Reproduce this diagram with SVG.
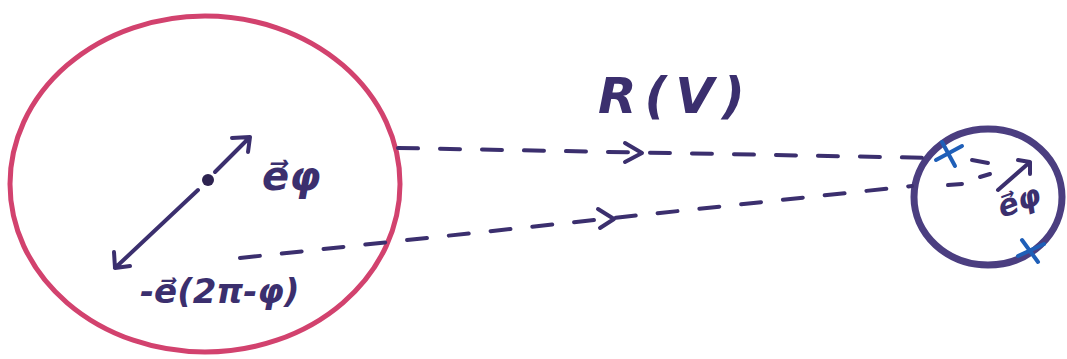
<svg xmlns="http://www.w3.org/2000/svg" width="1067" height="359" viewBox="0 0 1067 359">
<style>
.ink{fill:none;stroke:#3b2f6e;stroke-width:4;stroke-linecap:round;stroke-linejoin:round}
.dash{fill:none;stroke:#3b2f6e;stroke-width:4;stroke-linecap:round;stroke-dasharray:20 22}
.lbl{font-family:"DejaVu Sans",sans-serif;fill:#3b2f6e;font-style:italic;font-weight:bold}
.x{fill:none;stroke:#1f5fb8;stroke-width:4;stroke-linecap:round}
</style>
<rect width="1067" height="359" fill="#ffffff"/>
<g id="left-circle">
<ellipse cx="205" cy="184" rx="195" ry="168" fill="none" stroke="#d2426e" stroke-width="5"/>
<circle cx="208" cy="180" r="6" fill="#2d2350"/>
<path class="ink" d="M215 172 L250 137 M232 138 L250 137 L248 152"/>
<path class="ink" d="M198 190 L115 268 M114 252 L115 268 L130 266"/>
<text class="lbl" x="262" y="190" font-size="40">e⃗φ</text>
<text class="lbl" x="140" y="303" font-size="34">-e⃗(2π-φ)</text>
</g>
<g id="title">
<text class="lbl" x="598" y="113" font-size="50" font-weight="normal" letter-spacing="8">R(V)</text>
</g>
<g id="right-circle">
<ellipse cx="988" cy="197" rx="74" ry="68" fill="none" stroke="#4b3e80" stroke-width="7"/>
<path class="ink" d="M998 190 L1030 162 M1018 160 L1030 162 L1030 174"/>
<text class="lbl" x="1002" y="218" font-size="30" transform="rotate(-20 1002 218)">e⃗φ</text>
<path class="x" d="M942 142 L955 166 M936 160 L962 146"/>
<path class="x" d="M1022 240 L1038 262 M1018 256 L1044 244"/>
</g>
<g id="connectors">
<path class="dash" d="M398 148 L936 158"/>
<path class="ink" d="M625 143 L642 153 L625 162"/>
<path class="dash" d="M240 258 L912 186"/>
<path class="ink" d="M598 209 L614 219 L600 228"/>
<path class="ink" d="M972 160 L988 163 M948 185 L962 184 M980 177 L990 174"/>
</g>
</svg>
